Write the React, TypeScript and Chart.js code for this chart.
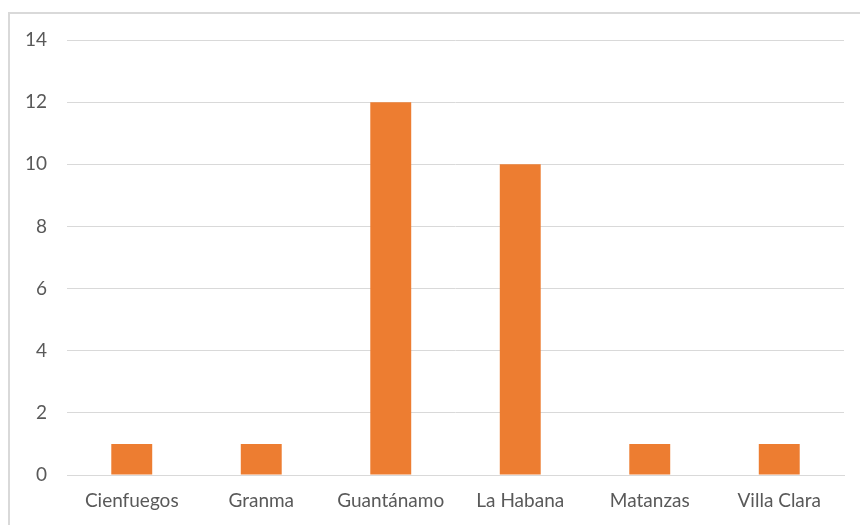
import React, { useEffect, useRef } from "react";
import { Chart, registerables } from "chart.js";

Chart.register(...registerables);

const categories = ["Cienfuegos", "Granma", "Guantánamo", "La Habana", "Matanzas", "Villa Clara"];
const values = [1, 1, 12, 10, 1, 1];
const yTicks = [0, 2, 4, 6, 8, 10, 12, 14];

const FONT = { family: "Lato, 'Open Sans', sans-serif", size: 19 };

export default function App() {
  const ref = useRef<HTMLCanvasElement | null>(null);
  useEffect(() => {
    if (!ref.current) return;
    const chart = new Chart(ref.current, {
      type: "bar",
      data: {
        labels: categories,
        datasets: [
          {
            data: values,
            backgroundColor: "#ED7D31",
            barPercentage: 0.316,
            categoryPercentage: 1,
          },
        ],
      },
      options: {
        responsive: false,
        animation: false,
        layout: { padding: { top: 40, right: 16, left: 0, bottom: 0 } },
        plugins: { legend: { display: false }, tooltip: { enabled: false } },
        scales: {
          x: {
            grid: { display: false, drawTicks: false },
            border: { display: true, color: "#d9d9d9", width: 1 },
            ticks: {
              color: "#595959",
              font: FONT,
              padding: 14,
              maxRotation: 0,
            },
            afterFit: (s: any) => {
              s.height = 50;
            },
          },
          y: {
            min: 0,
            max: 14,
            afterBuildTicks: (s: any) => {
              s.ticks = yTicks.map((v) => ({ value: v }));
            },
            grid: { color: "#d9d9d9", lineWidth: 1, drawTicks: false },
            border: { display: false },
            ticks: {
              color: "#595959",
              font: FONT,
              padding: 20,
            },
            afterFit: (s: any) => {
              s.width = 67;
            },
          },
        },
      },
    });
    return () => chart.destroy();
  }, []);

  return (
    <div style={{ position: "fixed", left: 0, top: 0, width: 860, height: 525, overflow: "hidden", background: "#fff" }}>
      <div
        style={{
          position: "absolute",
          left: 8,
          top: 12,
          width: 880,
          height: 540,
          border: "2px solid #d9d9d9",
          boxSizing: "border-box",
        }}
      />
      <canvas ref={ref} width={860} height={525} style={{ position: "absolute", left: 0, top: 0 }} />
    </div>
  );
}
